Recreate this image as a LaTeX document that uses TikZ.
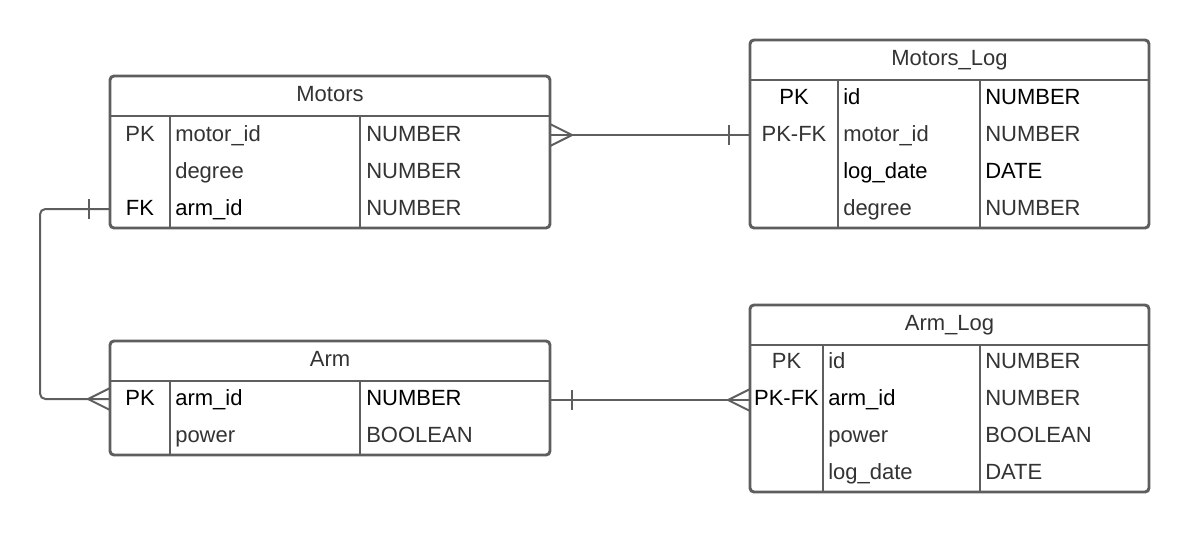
\documentclass[tikz,border=0pt]{standalone}
\usepackage{fontspec}
\setmainfont{Liberation Sans}
\usetikzlibrary{calc}
\definecolor{lineg}{RGB}{94,94,94}
\definecolor{txtg}{RGB}{51,51,51}
\begin{document}
\begin{tikzpicture}[x=0.75pt,y=-0.75pt,
  tbl/.style={draw=lineg, line width=2.2pt, rounded corners=3pt, inner sep=0pt, fill=white},
  sep/.style={draw=lineg, line width=2.2pt},
  conn/.style={draw=lineg, line width=1.5pt},
  txt/.style={inner sep=0pt, text=txtg, font=\fontsize{16.5}{19}\selectfont},
  blk/.style={text=black},
  fld/.style={txt, anchor=base west},
  key/.style={txt, anchor=base},
  ttl/.style={txt, anchor=base}]
\useasboundingbox (0,0) rectangle (1190,533);

% ---------- Motors ----------
\node[tbl, minimum width=330pt, minimum height=114pt] (motors) at (330,152) {};
\draw[sep] (110,116) -- (550,116);
\draw[sep] (170,116) -- (170,228);
\draw[sep] (360,116) -- (360,228);
\node[ttl] (motorsT) at (330,101) {Motors};
\node[key] (mk1) at (140,141) {PK};
\node[fld] (mn1) at (175,141) {motor\_id};
\node[fld] (mt1) at (366,141) {NUMBER};
\node[fld] (mn2) at (175,178) {degree};
\node[fld] (mt2) at (366,178) {NUMBER};
\node[key,blk] (mk3) at (140,215) {FK};
\node[fld,blk] (mn3) at (175,215) {arm\_id};
\node[fld] (mt3) at (366,215) {NUMBER};

% ---------- Motors_Log ----------
\node[tbl, minimum width=299.25pt, minimum height=141pt] (mlog) at (949.5,134) {};
\draw[sep] (750,80) -- (1149,80);
\draw[sep] (838,80) -- (838,228);
\draw[sep] (980,80) -- (980,228);
\node[ttl] (mlogT) at (949.5,65) {Motors\_Log};
\node[key,blk] (lk1) at (794,104.5) {PK};
\node[fld,blk] (ln1) at (843,104.5) {id};
\node[fld,blk] (lt1) at (985,104.5) {NUMBER};
\node[key] (lk2) at (794,141) {PK-FK};
\node[fld] (ln2) at (843,141) {motor\_id};
\node[fld] (lt2) at (985,141) {NUMBER};
\node[fld,blk] (ln3) at (843,178) {log\_date};
\node[fld,blk] (lt3) at (985,178) {DATE};
\node[fld] (ln4) at (843,215) {degree};
\node[fld] (lt4) at (985,215) {NUMBER};

% ---------- Arm ----------
\node[tbl, minimum width=330pt, minimum height=85.5pt] (arm) at (330,398) {};
\draw[sep] (110,381) -- (550,381);
\draw[sep] (170,381) -- (170,455);
\draw[sep] (360,381) -- (360,455);
\node[ttl] (armT) at (330,366) {Arm};
\node[key,blk] (ak1) at (140,405.5) {PK};
\node[fld,blk] (an1) at (175,405.5) {arm\_id};
\node[fld,blk] (at1) at (366,405.5) {NUMBER};
\node[fld] (an2) at (175,442.5) {power};
\node[fld] (at2) at (366,442.5) {BOOLEAN};

% ---------- Arm_Log ----------
\node[tbl, minimum width=299.25pt, minimum height=140.25pt] (alog) at (949.5,398.5) {};
\draw[sep] (750,345) -- (1149,345);
\draw[sep] (823,345) -- (823,492);
\draw[sep] (980,345) -- (980,492);
\node[ttl] (alogT) at (949.5,330) {Arm\_Log};
\node[key] (bk1) at (786.5,368.5) {PK};
\node[fld] (bn1) at (828,368.5) {id};
\node[fld] (bt1) at (985,368.5) {NUMBER};
\node[key,blk] (bk2) at (786.5,405) {PK-FK};
\node[fld,blk] (bn2) at (828,405) {arm\_id};
\node[fld] (bt2) at (985,405) {NUMBER};
\node[fld] (bn3) at (828,442) {power};
\node[fld] (bt3) at (985,442) {BOOLEAN};
\node[fld] (bn4) at (828,479) {log\_date};
\node[fld] (bt4) at (985,479) {DATE};

% ---------- Connectors ----------
% Motors (many) -- Motors_Log (one)
\coordinate (c1a) at (550,135);
\coordinate (c1b) at (750,135);
\draw[conn] (c1a) -- (c1b);
\draw[conn] ($(c1a)+(0,-11)$) -- ($(c1a)+(22,0)$) -- ($(c1a)+(0,11)$);
\draw[conn] ($(c1b)+(-21,-10)$) -- ($(c1b)+(-21,10)$);

% Motors FK (one) -- Arm (many)
\coordinate (c2a) at (110,209);
\coordinate (c2b) at (110,399);
\draw[conn, rounded corners=4pt] (c2a) -- (40,209) -- (40,399) -- (c2b);
\draw[conn] ($(c2a)+(-21,-10)$) -- ($(c2a)+(-21,10)$);
\draw[conn] ($(c2b)+(0,-11)$) -- ($(c2b)+(-22,0)$) -- ($(c2b)+(0,11)$);

% Arm (one) -- Arm_Log (many)
\coordinate (c3a) at (550,400);
\coordinate (c3b) at (750,400);
\draw[conn] (c3a) -- (c3b);
\draw[conn] ($(c3a)+(22,-10)$) -- ($(c3a)+(22,10)$);
\draw[conn] ($(c3b)+(0,-11)$) -- ($(c3b)+(-22,0)$) -- ($(c3b)+(0,11)$);
\end{tikzpicture}
\end{document}
